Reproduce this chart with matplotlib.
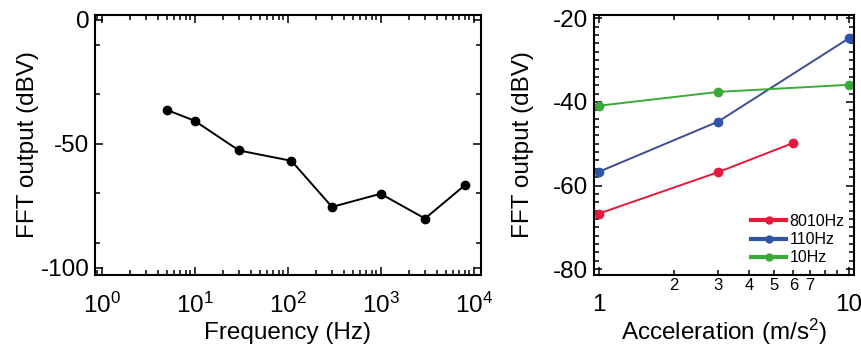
import matplotlib
matplotlib.use("Agg")
import matplotlib.pyplot as plt
import matplotlib.ticker as mticker
import numpy as np

plt.rcParams['font.family'] = ['Liberation Sans', 'DejaVu Sans']
plt.rcParams['mathtext.fontset'] = 'custom'
plt.rcParams['mathtext.rm'] = 'Liberation Sans'
plt.rcParams['mathtext.it'] = 'Liberation Sans'
plt.rcParams['axes.unicode_minus'] = False

# Left panel data
freq = [5, 10, 30, 110, 300, 1000, 3000, 8010]
fft_freq = [-36.3, -40.7, -52.7, -56.9, -75.5, -70.2, -80.2, -66.8]

# Right panel data
acc_8010 = [1, 3, 6]
fft_8010 = [-66.7, -56.8, -49.8]
acc_110 = [1, 3, 10]
fft_110 = [-56.7, -44.7, -24.8]
acc_10 = [1, 3, 10]
fft_10 = [-40.9, -37.6, -35.9]

series_labels = ['8010Hz', '110Hz', '10Hz']
series_colors = ['#e8183a', '#2d55a5', '#3aaa3a']
line_colors = ['#e8183a', '#3d4d8f', '#3aaa3a']

W, H = 861, 346
fig = plt.figure(figsize=(W / 100, H / 100), dpi=100)

def ax_rect(x0, x1, y0, y1):
    return [x0 / W, 1 - y1 / H, (x1 - x0) / W, (y1 - y0) / H]

FS = 17.5
ax1 = fig.add_axes(ax_rect(95, 481, 15, 275))
ax2 = fig.add_axes(ax_rect(594, 854, 15, 275))

for ax in (ax1, ax2):
    for s in ax.spines.values():
        s.set_linewidth(1.5)
    ax.tick_params(which='both', direction='in', top=True, right=True, width=1.1)
    ax.tick_params(which='major', length=6)
    ax.tick_params(which='minor', length=3.5)

# Left panel
ax1.plot(freq, fft_freq, '-o', color='black', lw=1.4, ms=6)
ax1.set_xscale('log')
ax1.set_xlim(0.85, 12000)
ax1.set_ylim(-103, 2)
ax1.xaxis.set_major_locator(mticker.FixedLocator([1, 10, 100, 1000, 10000]))
ax1.xaxis.set_major_formatter(mticker.FuncFormatter(lambda v, p: r'$\mathregular{10^{%d}}$' % round(np.log10(v))))
ax1.xaxis.set_minor_locator(mticker.LogLocator(base=10, subs=np.arange(2, 10), numticks=20))
ax1.xaxis.set_minor_formatter(mticker.NullFormatter())
ax1.yaxis.set_major_locator(mticker.FixedLocator([0, -50, -100]))
ax1.yaxis.set_minor_locator(mticker.FixedLocator([-10, -30, -70, -90]))
ax1.yaxis.set_major_formatter(mticker.FuncFormatter(lambda v, p: '%d' % v))
ax1.tick_params(axis='x', which='major', labelsize=FS, pad=13)
ax1.tick_params(axis='y', which='major', labelsize=FS, pad=4)
ax1.set_xlabel('Frequency (Hz)', fontsize=FS, labelpad=3)
ax1.set_ylabel('FFT output (dBV)', fontsize=FS, labelpad=1)

# Right panel
xs = [acc_8010, acc_110, acc_10]
ys = [fft_8010, fft_110, fft_10]
for x, y, lab, mc, lc in zip(xs, ys, series_labels, series_colors, line_colors):
    ax2.plot(x, y, '-', color=lc, lw=1.4, label=lab)
    ax2.plot(x, y, 'o', color=mc, ms=6)
handles = [plt.Line2D([], [], color=c, lw=3, marker='o', ms=5) for c in series_colors]
ax2.legend(handles, series_labels, loc='lower right', bbox_to_anchor=(1.0, 0.0),
           frameon=False, fontsize=11.5, handlelength=2.2, handletextpad=0.2,
           labelspacing=0.2, borderaxespad=0.2)
ax2.set_xscale('log')
ax2.set_xlim(0.955, 10.5)
ax2.set_ylim(-81.4, -19.2)
ax2.xaxis.set_major_locator(mticker.FixedLocator([1, 10]))
ax2.xaxis.set_major_formatter(mticker.FuncFormatter(lambda v, p: '%d' % round(v)))
ax2.xaxis.set_minor_locator(mticker.FixedLocator([2, 3, 4, 5, 6, 7, 8, 9]))
ax2.xaxis.set_minor_formatter(mticker.FuncFormatter(lambda v, p: '%d' % round(v) if round(v) <= 7 else ''))
ax2.yaxis.set_major_locator(mticker.FixedLocator([-20, -40, -60, -80]))
ax2.yaxis.set_minor_locator(mticker.MultipleLocator(2))
ax2.yaxis.set_major_formatter(mticker.FuncFormatter(lambda v, p: '%d' % v))
ax2.tick_params(axis='x', which='major', labelsize=FS, pad=14)
ax2.tick_params(axis='x', which='minor', labelsize=12, pad=2)
ax2.tick_params(axis='y', which='major', labelsize=FS, pad=4)
ax2.set_xlabel('Acceleration (m/s$^\\mathregular{2}$)', fontsize=FS, labelpad=0)
ax2.set_ylabel('FFT output (dBV)', fontsize=FS, labelpad=14)

fig.savefig('out.png', dpi=100)
